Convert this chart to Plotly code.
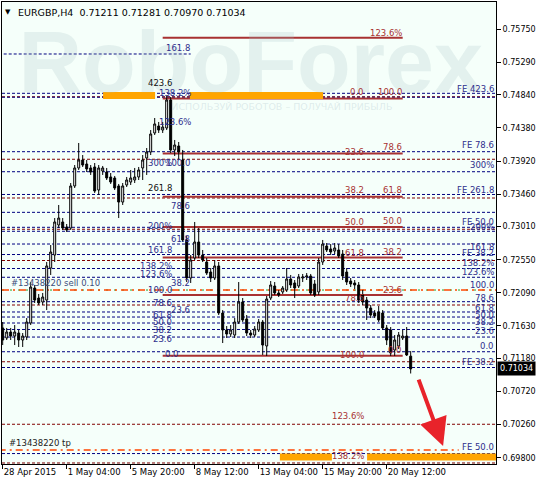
import plotly.graph_objects as go

# ---------------- data ----------------
bar_index = list(range(103))
opens = [0.71602,0.71463,0.71546,0.71490,0.71532,0.71435,0.71477,0.71671,0.72157,0.72018,
         0.71963,0.71990,0.72435,0.72615,0.73032,0.73074,0.73004,0.72990,0.73574,0.73824,
         0.73935,0.73879,0.73824,0.73838,0.73518,0.73782,0.73768,0.73699,0.73685,0.73574,
         0.73351,0.73588,0.73629,0.73657,0.73699,0.73824,0.73963,0.74046,0.74310,0.74407,
         0.74351,0.74379,0.74768,0.74074,0.74129,0.73935,0.72824,0.72296,0.72574,0.72796,
         0.72615,0.72518,0.72379,0.72296,0.72463,0.71810,0.71574,0.71518,0.71504,0.71685,
         0.71963,0.71727,0.71532,0.71504,0.71574,0.71685,0.71352,0.72018,0.72185,0.72088,
         0.72102,0.72129,0.72282,0.72227,0.72185,0.72296,0.72310,0.72324,0.72213,0.72102,
         0.72518,0.72740,0.72699,0.72671,0.72685,0.72629,0.72379,0.72254,0.72227,0.72199,
         0.72060,0.71990,0.71879,0.71810,0.71824,0.71810,0.71602,0.71574,0.71296,0.71352,
         0.71463,0.71490,0.71211]
highs = [0.71685,0.71602,0.71602,0.71643,0.71574,0.71532,0.71740,0.72240,0.72199,0.72074,
         0.72088,0.72518,0.72754,0.73129,0.73310,0.73129,0.73046,0.73615,0.73865,0.74171,
         0.74004,0.73935,0.73865,0.73893,0.73865,0.73852,0.73824,0.73754,0.73713,0.73602,
         0.73615,0.73699,0.73796,0.73824,0.73838,0.74004,0.74101,0.74351,0.74518,0.74463,
         0.74463,0.74824,0.74810,0.74213,0.74185,0.74074,0.72879,0.72615,0.73074,0.72990,
         0.72685,0.72574,0.72435,0.72546,0.72518,0.71851,0.71629,0.71643,0.71740,0.72240,
         0.72018,0.71782,0.71574,0.71629,0.71727,0.71713,0.72046,0.72254,0.72240,0.72129,
         0.72185,0.72435,0.72338,0.72268,0.72352,0.72352,0.72365,0.72352,0.72268,0.72574,
         0.72824,0.72782,0.72768,0.72782,0.72768,0.72685,0.72435,0.72296,0.72268,0.72240,
         0.72129,0.72032,0.71921,0.71851,0.71907,0.71851,0.71643,0.71615,0.71504,0.71546,
         0.71574,0.71615,0.71281]
lows = [0.71365,0.71435,0.71435,0.71365,0.71338,0.71338,0.71435,0.71643,0.71949,0.71921,
        0.71921,0.71851,0.72338,0.72518,0.72990,0.72963,0.72935,0.72963,0.73546,0.73796,
        0.73838,0.73768,0.73727,0.73477,0.73449,0.73727,0.73657,0.73602,0.73518,0.73129,
        0.73310,0.73560,0.73588,0.73615,0.73657,0.73657,0.73727,0.74004,0.74282,0.74310,
        0.74310,0.74351,0.74032,0.73990,0.73935,0.72796,0.72240,0.72227,0.72546,0.72574,
        0.72518,0.72338,0.72240,0.72268,0.71782,0.71393,0.71463,0.71477,0.71463,0.71657,
        0.71685,0.71490,0.71463,0.71477,0.71546,0.71227,0.71213,0.71990,0.72060,0.72032,
        0.72074,0.72102,0.72157,0.72018,0.72157,0.72240,0.72268,0.72060,0.72032,0.72060,
        0.72477,0.72657,0.72615,0.72629,0.72574,0.72268,0.72199,0.72171,0.72143,0.71949,
        0.71921,0.71713,0.71740,0.71740,0.71685,0.71574,0.71365,0.71213,0.71213,0.71310,
        0.71435,0.71213,0.70970]
closes = [0.71435,0.71546,0.71490,0.71546,0.71435,0.71490,0.71685,0.72171,0.71990,0.71949,
          0.72032,0.72463,0.72657,0.73074,0.73129,0.72990,0.72963,0.73574,0.73824,0.73935,
          0.73865,0.73810,0.73768,0.73504,0.73824,0.73824,0.73685,0.73629,0.73546,0.73351,
          0.73574,0.73657,0.73685,0.73699,0.73796,0.73935,0.74046,0.74296,0.74435,0.74351,
          0.74393,0.74768,0.74074,0.74143,0.74046,0.72824,0.72296,0.72546,0.72796,0.72615,
          0.72546,0.72365,0.72296,0.72463,0.71810,0.71574,0.71518,0.71574,0.71685,0.71963,
          0.71713,0.71532,0.71504,0.71588,0.71685,0.71365,0.72004,0.72199,0.72088,0.72060,
          0.72157,0.72282,0.72199,0.72157,0.72310,0.72310,0.72324,0.72088,0.72060,0.72518,
          0.72768,0.72685,0.72657,0.72713,0.72602,0.72324,0.72240,0.72213,0.72199,0.71990,
          0.71963,0.71879,0.71782,0.71768,0.71713,0.71602,0.71435,0.71254,0.71435,0.71504,
          0.71490,0.71227,0.71034]

x_tick_bars = [0, 16, 32, 48, 64, 80, 96]
x_tick_labels = ["28 Apr 2015", "1 May 04:00", "5 May 20:00", "8 May 12:00",
                 "13 May 04:00", "15 May 20:00", "20 May 12:00"]
y_ticks = [0.75750, 0.75290, 0.74840, 0.74380, 0.73920, 0.73460, 0.73010,
           0.72550, 0.72090, 0.71630, 0.71180, 0.70720, 0.70260, 0.69800]

fe_levels = [0.74861, 0.74806, 0.74050, 0.73772, 0.73456, 0.73208, 0.73000, 0.72945,
             0.72768, 0.72622, 0.72428, 0.72306, 0.71967, 0.71824, 0.71754, 0.71671,
             0.71581, 0.71476, 0.71272, 0.71053, 0.69858]
fe_short_level = 0.75407
fib1_levels = [0.74813, 0.73945, 0.73407, 0.72973, 0.72539, 0.71921, 0.71133, 0.70265, 0.69727]
fib2_levels = [0.75632, 0.74789, 0.74025, 0.73425, 0.73003, 0.72582, 0.72060, 0.71217]
fib2_bars = [40, 100]
sell_price = 0.72129
tp_price = 0.69907
last_price = 0.71034
zones = [  # (bar0, bar1, price_lo, price_hi)
    (25.1, 38.1, 0.74782, 0.74879), (46.8, 80.1, 0.74782, 0.74879),
    (69.3, 82.3, 0.69761, 0.69858), (91.1, 124.0, 0.69761, 0.69858)]

NAVY = "#000080"
NAVY_TXT = "#2E2E8C"
DRED = "#800000"
RED = "#A83232"

# labels: (text, price, bar_end or None for right edge, color)
labels = [
    # fibo 1 (right end ~ bar 90.6)
    ("0.0", 0.74879, 90.6, RED), ("23.6", 0.74046, 90.6, RED), ("38.2", 0.73518, 90.6, RED),
    ("50.0", 0.73074, 90.6, RED), ("61.8", 0.72643, 90.6, RED), ("78.6", 0.72018, 90.6, RED),
    ("100.0", 0.71227, 90.6, RED), ("123.6%", 0.70379, 90.6, RED), ("138.2%", 0.69824, 90.6, RED),
    # fibo 2 (right end bar 100)
    ("123.6%", 0.75699, 100.1, RED), ("100.0", 0.74879, 100.1, RED), ("78.6", 0.74115, 100.1, RED),
    ("61.8", 0.73518, 100.1, RED), ("50.0", 0.73088, 100.1, RED), ("38.2", 0.72657, 100.1, RED),
    ("23.6", 0.72129, 100.1, RED), ("0.0", 0.71296, 100.1, RED),
    # left expansion labels
    ("423.6", 0.75004, 42.6, "#111111"), ("300%", 0.73893, 42.6, NAVY_TXT),
    ("261.8", 0.73546, 42.6, "#111111"), ("200%", 0.73018, 42.6, NAVY_TXT),
    ("161.8", 0.72685, 42.6, NAVY_TXT), ("138.2%", 0.72463, 42.6, NAVY_TXT),
    ("123.6%", 0.72352, 42.6, NAVY_TXT), ("100.0", 0.72129, 42.6, NAVY_TXT),
    ("78.6", 0.71949, 42.6, NAVY_TXT), ("61.8", 0.71782, 42.6, NAVY_TXT),
    ("50.0", 0.71685, 42.6, NAVY_TXT), ("38.2", 0.71574, 42.6, NAVY_TXT),
    ("23.6", 0.71449, 42.6, NAVY_TXT), ("0.0", 0.71240, 44.4, NAVY_TXT),
    ("161.8", 0.75490, 47.0, NAVY_TXT), ("138.2%", 0.74865, 47.3, NAVY_TXT),
    ("123.6%", 0.74463, 47.3, NAVY_TXT), ("100.0", 0.73893, 47.0, NAVY_TXT),
    ("78.6", 0.73296, 47.0, NAVY_TXT), ("61.8", 0.72838, 47.0, NAVY_TXT),
    ("38.2", 0.72227, 47.0, NAVY_TXT), ("23.6", 0.71851, 47.0, NAVY_TXT),
    # right edge expansion labels
    ("FE 423.6", 0.74921, None, NAVY_TXT), ("FE 78.6", 0.74143, None, NAVY_TXT),
    ("300%", 0.73865, None, NAVY_TXT), ("FE 261.8", 0.73518, None, NAVY_TXT),
    ("FE 50.0", 0.73074, None, NAVY_TXT), ("200%", 0.73004, None, NAVY_TXT),
    ("161.8", 0.72726, None, NAVY_TXT), ("FE 38.2", 0.72643, None, NAVY_TXT),
    ("138.2%", 0.72504, None, NAVY_TXT), ("123.6%", 0.72379, None, NAVY_TXT),
    ("100.0", 0.72199, None, NAVY_TXT), ("78.6", 0.72018, None, NAVY_TXT),
    ("61.8", 0.71879, None, NAVY_TXT), ("50.0", 0.71782, None, NAVY_TXT),
    ("38.2", 0.71685, None, NAVY_TXT), ("23.6", 0.71560, None, NAVY_TXT),
    ("0.0", 0.71351, None, NAVY_TXT), ("FE 38.2", 0.71129, None, NAVY_TXT),
    ("FE 50.0", 0.69949, None, NAVY_TXT),
]

FONT = "DejaVu Sans"
fig = go.Figure()

# watermark (drawn first, under the candles)
fig.add_trace(go.Scatter(x=[62.0], y=[0.75185], mode="text", text=["RoboForex"],
                         textfont=dict(family="Liberation Sans", size=88, weight="bold",
                                       color="rgba(165,190,198,0.22)"),
                         hoverinfo="skip", showlegend=False))
fig.add_trace(go.Scatter(x=[69.8], y=[0.74660], mode="text",
                         text=["ИСПОЛЬЗУЙ РОБОТОВ – ПОЛУЧАЙ ПРИБЫЛЬ"],
                         textfont=dict(family=FONT, size=9.5, color="rgba(165,190,198,0.3)"),
                         hoverinfo="skip", showlegend=False))

fig.add_trace(go.Candlestick(
    x=bar_index, open=opens, high=highs, low=lows, close=closes,
    increasing=dict(line=dict(color="black", width=1), fillcolor="white"),
    decreasing=dict(line=dict(color="black", width=1), fillcolor="black"),
    whiskerwidth=0, showlegend=False, hoverinfo="skip"))

shapes = []
dash = "3px,2px"
for lv in fib1_levels:
    shapes.append(dict(type="line", xref="paper", x0=0, x1=1, yref="y", y0=lv, y1=lv,
                       line=dict(color=DRED, width=1, dash=dash), layer="below"))
for lv in fe_levels:
    shapes.append(dict(type="line", xref="paper", x0=0, x1=1, yref="y", y0=lv, y1=lv,
                       line=dict(color=NAVY, width=1, dash=dash), layer="below"))
shapes.append(dict(type="line", xref="x", x0=-1, x1=47, yref="y", y0=fe_short_level, y1=fe_short_level,
                   line=dict(color=NAVY, width=1, dash=dash), layer="below"))
for lv in fib2_levels:
    shapes.append(dict(type="line", xref="x", x0=fib2_bars[0], x1=fib2_bars[1], yref="y", y0=lv, y1=lv,
                       line=dict(color=RED, width=2), layer="below"))
for b0, b1, lo, hi in zones:
    shapes.append(dict(type="rect", xref="x", x0=b0, x1=b1, yref="y", y0=lo, y1=hi,
                       fillcolor="#FFA500", line=dict(width=0), layer="below"))
# order lines
shapes.append(dict(type="line", xref="paper", x0=0, x1=1, yref="y", y0=sell_price, y1=sell_price,
                   line=dict(color="#22A022", width=1, dash="2px,6px"), layer="below"))
shapes.append(dict(type="line", xref="paper", x0=0, x1=1, yref="y", y0=sell_price, y1=sell_price,
                   line=dict(color="#FF4500", width=1.5, dash="7px,4px,2px,4px"), layer="below"))
shapes.append(dict(type="line", xref="x", x0=-1, x1=114, yref="y", y0=tp_price, y1=tp_price,
                   line=dict(color="#FF4500", width=1.5, dash="7px,4px,2px,4px"), layer="below"))

annotations = []
for text, price, bar_end, color in labels:
    if bar_end is None:
        annotations.append(dict(xref="paper", x=1, xanchor="right", xshift=-1, yref="y", y=price,
                                yanchor="middle", text=text, showarrow=False,
                                font=dict(family=FONT, size=8.5, color=color), borderpad=0))
    else:
        annotations.append(dict(xref="x", x=bar_end, xanchor="right", yref="y", y=price,
                                yanchor="middle", text=text, showarrow=False,
                                font=dict(family=FONT, size=8.5, color=color), borderpad=0))

annotations += [
    dict(xref="x", x=1.8, xanchor="left", yref="y", y=0.72227, yanchor="middle",
         text="#13438220 sell 0.10", showarrow=False, borderpad=0,
         font=dict(family=FONT, size=8.5, color="#3C4E7A")),
    dict(xref="x", x=1.4, xanchor="left", yref="y", y=0.70004, yanchor="middle",
         text="#13438220 tp", showarrow=False, borderpad=0,
         font=dict(family=FONT, size=8.5, color="#222222")),
    dict(xref="paper", x=0, xanchor="left", xshift=15, yref="paper", y=1, yanchor="top", yshift=-4,
         text="EURGBP,H4  0.71211 0.71281 0.70970 0.71034", showarrow=False, borderpad=0,
         font=dict(family=FONT, size=9.5, color="black")),
    dict(xref="paper", x=0, xanchor="left", xshift=2, yref="paper", y=1, yanchor="top", yshift=-5,
         text="▼", showarrow=False, borderpad=0, font=dict(family=FONT, size=7, color="black")),
    dict(xref="paper", x=1, xanchor="left", xshift=1, yref="y", y=last_price, yanchor="middle",
         text="0.71034", showarrow=False, bgcolor="black", borderpad=2,
         font=dict(family=FONT, size=8, color="white")),
    dict(xref="x", x=110.1, yref="y", y=0.69962, ax=-25, ay=-68, axref="pixel", ayref="pixel",
         text="", showarrow=True, arrowhead=2, arrowsize=1.4, arrowwidth=4, arrowcolor="#E8232A"),
]

fig.update_layout(
    width=538, height=478,
    margin=dict(l=2, r=42, t=2, b=14),
    paper_bgcolor="white", plot_bgcolor="#F5FFFA",
    shapes=shapes, annotations=annotations,
    xaxis=dict(range=[-0.175, 123.33], showgrid=False, zeroline=False, rangeslider=dict(visible=False),
               showline=True, linecolor="black", linewidth=1, mirror=True, automargin=False,
               ticks="outside", ticklen=4, tickcolor="black", tickangle=0,
               tickvals=x_tick_bars, ticktext=x_tick_labels, ticklabelposition="outside right",
               tickfont=dict(family=FONT, size=8.5, color="black")),
    yaxis=dict(range=[0.69713, 0.76129], side="right", showgrid=False, zeroline=False,
               showline=True, linecolor="black", linewidth=1, mirror=True, automargin=False,
               ticks="outside", ticklen=4, tickcolor="black",
               tickvals=y_ticks, ticktext=["%.5f" % v for v in y_ticks],
               tickfont=dict(family=FONT, size=8, color="black")),
    showlegend=False,
)

fig.write_html("out.html", config={"displayModeBar": False},
               post_script="document.body.style.margin='0';document.body.style.padding='0';")
